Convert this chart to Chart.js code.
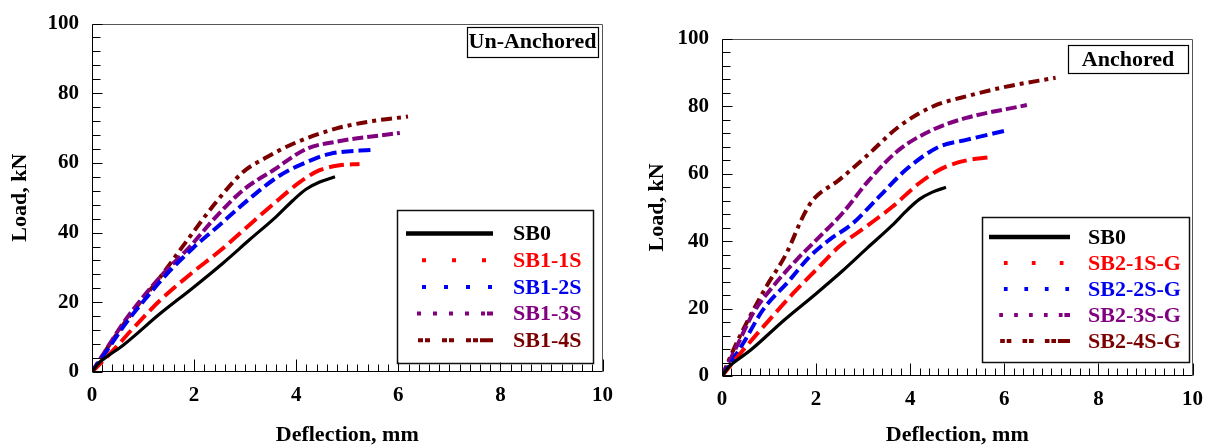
<!DOCTYPE html>
<html>
<head>
<meta charset="utf-8">
<script src="https://cdn.jsdelivr.net/npm/chart.js@4.4.0/dist/chart.umd.min.js"></script>
<style>
  html, body { margin: 0; padding: 0; background: #fff; }
  body { width: 1216px; height: 446px; position: relative; overflow: hidden; }
  canvas { position: absolute; top: 0; }
  #unanchored { left: 0; }
  #anchored { left: 630px; }
</style>
</head>
<body>
<canvas id="unanchored" width="626" height="446"></canvas>
<canvas id="anchored" width="586" height="446"></canvas>
<script>
// axis ticks (deflection mm / load kN)
const xTicks = [0, 2, 4, 6, 8, 10];
const yTicks = [0, 20, 40, 60, 80, 100];

// control beam, same curve in both plots
const sb0Defl = [0, 0.15, 0.3, 0.61, 1.33, 1.98, 2.57, 3.09, 3.61, 3.94, 4.2, 4.46, 4.76];
const sb0Load = [0, 2.8, 4.5, 7.7, 16.7, 24.2, 31.3, 38.0, 44.6, 49.3, 52.5, 54.5, 56.0];

// un-anchored
const sb11sDefl = [0, 0.4, 0.81, 1.33, 1.92, 2.5, 3.16, 3.68, 4.07, 4.46, 4.85, 5.24];
const sb11sLoad = [0, 6.0, 12.6, 20.5, 28.0, 34.7, 43.2, 49.8, 54.5, 57.9, 59.3, 59.7];
const sb12sDefl = [0, 0.3, 0.68, 1.07, 1.46, 1.98, 2.5, 3.09, 3.68, 4.2, 4.66, 5.54];
const sb12sLoad = [0, 6.3, 14.3, 21.4, 28.0, 35.6, 42.2, 49.8, 56.4, 60.2, 62.6, 63.8];
const sb13sDefl = [0, 0.3, 0.61, 1.0, 1.4, 1.92, 2.37, 2.96, 3.55, 4.2, 4.79, 6.03];
const sb13sLoad = [0, 7.0, 14.0, 21.5, 28.3, 36.0, 43.6, 52.2, 57.9, 64.0, 66.1, 68.6];
const sb14sDefl = [0, 0.42, 0.81, 1.33, 1.85, 2.44, 2.96, 3.42, 3.94, 4.79, 5.5, 6.19];
const sb14sLoad = [0, 9.5, 17.5, 27.1, 37.5, 48.9, 57.4, 61.6, 65.5, 69.9, 72.0, 73.3];

// anchored
const sb21sDefl = [0, 0.45, 0.94, 1.51, 2.0, 2.49, 3.06, 3.62, 4.19, 4.68, 5.17, 5.67];
const sb21sLoad = [0, 7.7, 15.6, 24.5, 31.5, 38.4, 44.3, 50.2, 57.2, 61.6, 63.9, 64.9];
const sb22sDefl = [0, 0.45, 0.87, 1.44, 1.86, 2.28, 2.78, 3.34, 3.9, 4.61, 5.17, 6.09];
const sb22sLoad = [0, 9.7, 19.6, 28.5, 35.4, 40.4, 45.3, 53.2, 61.1, 68.0, 70.0, 73.0];
const sb23sDefl = [0, 0.31, 0.66, 1.08, 1.58, 2.07, 2.56, 3.13, 3.76, 4.47, 5.17, 6.48];
const sb23sLoad = [0, 8.7, 18.6, 26.5, 34.4, 41.3, 48.3, 58.2, 67.1, 73.0, 76.5, 80.4];
const sb24sDefl = [0, 0.24, 0.59, 0.94, 1.37, 1.72, 1.93, 2.49, 3.06, 3.76, 4.47, 5.31, 6.02, 7.09];
const sb24sLoad = [0, 7.7, 17.6, 26.5, 36.4, 47.3, 52.2, 58.2, 65.1, 74.0, 79.9, 83.4, 85.8, 88.5];

const FONT = 'Liberation Serif, Times New Roman, serif';
const BLACK = '#000000';
const RED = '#ff0000';
const BLUE = '#0000f0';
const PURPLE = '#800080';
const MAROON = '#7a0000';

const toPoints = (xs, ys) => xs.map((x, i) => ({ x, y: ys[i] }));

function series(label, xs, ys, color, dash, legendDash, legendStart) {
  return {
    label,
    data: toPoints(xs, ys),
    borderColor: color,
    backgroundColor: color,
    borderWidth: dash.length ? 4 : 3.2,
    borderDash: dash,
    borderCapStyle: 'butt',
    pointRadius: 0,
    showLine: true,
    cubicInterpolationMode: 'monotone',
    legendDash,
    legendStart,
  };
}

// inward ticks, plot frame, title box and framed legend
const decorations = {
  id: 'decorations',
  afterDraw(chart, args, opts) {
    const { ctx, chartArea: a, scales: { x, y } } = chart;
    const left = Math.round(a.left) + 0.5;
    const right = Math.round(a.right) - 0.5;
    const top = Math.round(a.top) + 0.5;
    const bottom = Math.round(a.bottom) - 0.5;
    ctx.save();

    ctx.lineWidth = 1;
    ctx.strokeStyle = '#555';
    ctx.beginPath();
    ctx.moveTo(left, top);
    ctx.lineTo(right, top);
    ctx.lineTo(right, bottom);
    ctx.stroke();
    ctx.strokeStyle = '#000';
    ctx.beginPath();
    ctx.moveTo(left, top);
    ctx.lineTo(left, bottom);
    ctx.lineTo(right, bottom);
    for (let i = 0; i <= 50; i++) {
      const px = Math.round(x.getPixelForValue(i * 0.2)) + 0.5;
      const len = i % 10 === 0 ? 12 : 7;
      ctx.moveTo(px, bottom);
      ctx.lineTo(px, bottom - len);
    }
    for (let i = 0; i <= 25; i++) {
      const py = Math.round(y.getPixelForValue(i * 4)) + 0.5;
      const len = i % 5 === 0 ? 10 : 8;
      ctx.moveTo(left, py);
      ctx.lineTo(left + len, py);
    }
    ctx.stroke();

    // title box
    const t = opts.title;
    ctx.fillStyle = '#fff';
    ctx.fillRect(a.left + t.x, a.top + t.y, t.w, t.h);
    ctx.strokeStyle = '#000';
    ctx.lineWidth = 1.2;
    ctx.strokeRect(Math.round(a.left + t.x) + 0.5, Math.round(a.top + t.y) + 0.5, t.w, t.h);
    ctx.fillStyle = '#000';
    ctx.font = 'bold 22px ' + FONT;
    ctx.textAlign = 'center';
    ctx.textBaseline = 'middle';
    ctx.fillText(t.text, a.left + t.x + t.w / 2, a.top + t.y + t.h / 2 + 1);

    // legend box
    const l = opts.legend;
    const bx = a.left + l.x;
    const by = a.top + l.y;
    ctx.fillStyle = '#fff';
    ctx.fillRect(bx, by, l.w, l.h);
    ctx.strokeStyle = '#111';
    ctx.lineWidth = 1.5;
    ctx.strokeRect(Math.round(bx) + 0.5, Math.round(by) + 0.5, l.w, l.h);
    const len = l.x1 - l.x0;
    const k = len / 87;
    chart.data.datasets.forEach((ds, i) => {
      const ry = a.top + l.row0 + i * l.gap;
      ctx.save();
      ctx.beginPath();
      ctx.rect(a.left + l.x0, ry - 5, len, 10);
      ctx.clip();
      ctx.strokeStyle = ds.borderColor;
      ctx.lineWidth = ds.legendDash.length ? 4 : 4.5;
      ctx.lineCap = 'butt';
      ctx.setLineDash(ds.legendDash.map(d => d * k));
      ctx.beginPath();
      ctx.moveTo(a.left + l.x0 + ds.legendStart * k, ry);
      ctx.lineTo(a.left + l.x1 + 20, ry);
      ctx.stroke();
      ctx.restore();
      ctx.fillStyle = ds.borderColor;
      ctx.font = 'bold 22px ' + FONT;
      ctx.textAlign = 'left';
      ctx.textBaseline = 'middle';
      ctx.fillText(ds.label, a.left + l.tx, ry + 1);
    });
    ctx.restore();
  },
};

function makeChart(id, datasets, layout, title, legend) {
  const tickFont = { family: FONT, size: 21, weight: 'bold', lineHeight: 1 };
  const titleFont = { family: FONT, size: 22, weight: 'bold', lineHeight: 1 };
  return new Chart(document.getElementById(id), {
    type: 'scatter',
    data: { datasets },
    plugins: [decorations],
    options: {
      responsive: false,
      animation: false,
      devicePixelRatio: 1,
      layout: { padding: { top: layout.top, right: layout.right, left: 0, bottom: 0 } },
      plugins: {
        legend: { display: false },
        tooltip: { enabled: false },
        decorations: { title, legend },
      },
      scales: {
        x: {
          type: 'linear',
          min: 0,
          max: 10,
          afterBuildTicks: (s) => { s.ticks = xTicks.map((value) => ({ value })); },
          afterFit: (s) => { s.height = layout.xHeight; },
          grid: { display: false, drawTicks: false },
          border: { display: false },
          ticks: { padding: 13, color: '#000', font: tickFont, maxRotation: 0 },
          title: { display: true, text: 'Deflection, mm', color: '#000', font: titleFont, padding: 0 },
        },
        y: {
          type: 'linear',
          min: 0,
          max: 100,
          afterBuildTicks: (s) => { s.ticks = yTicks.map((value) => ({ value })); },
          afterFit: (s) => { s.width = 92; },
          grid: { display: false, drawTicks: false },
          border: { display: false },
          ticks: { padding: 13, color: '#000', font: tickFont },
          title: {
            display: true,
            text: 'Load, kN',
            color: '#000',
            font: titleFont,
            padding: { top: layout.yTitle, bottom: 0 },
          },
        },
      },
    },
  });
}

// legend sample dashes (in px over an 87px sample)
const dotsRed = [4, 26];
const dotsBlue = [4, 18];
const dotsPurple = [4, 12, 4, 12, 4, 12, 4, 12, 4, 2, 12, 2];
const dotsMaroon = [5, 2, 5, 12, 5, 2, 5, 12, 5, 2, 5, 2, 20, 2];

makeChart('unanchored', [
  series('SB0', sb0Defl, sb0Load, BLACK, [], [], 0),
  series('SB1-1S', sb11sDefl, sb11sLoad, RED, [15, 6], dotsRed, 16),
  series('SB1-2S', sb12sDefl, sb12sLoad, BLUE, [12, 5], dotsBlue, 16),
  series('SB1-3S', sb13sDefl, sb13sLoad, PURPLE, [11, 4], dotsPurple, 11),
  series('SB1-4S', sb14sDefl, sb14sLoad, MAROON, [11, 5, 4, 5], dotsMaroon, 12),
], { top: 20, right: 23, xHeight: 74, yTitle: 9 },
  { text: 'Un-Anchored', x: 375, y: 3, w: 131, h: 30 },
  { x: 305, y: 186, w: 196, h: 153, x0: 314, x1: 401, tx: 421, row0: 210, gap: 26.7 });

makeChart('anchored', [
  series('SB0', sb0Defl, sb0Load, BLACK, [], [], 0),
  series('SB2-1S-G', sb21sDefl, sb21sLoad, RED, [15, 6], dotsRed, 16),
  series('SB2-2S-G', sb22sDefl, sb22sLoad, BLUE, [12, 5], dotsBlue, 16),
  series('SB2-3S-G', sb23sDefl, sb23sLoad, PURPLE, [11, 4], dotsPurple, 11),
  series('SB2-4S-G', sb24sDefl, sb24sLoad, MAROON, [11, 5, 4, 5], dotsMaroon, 12),
], { top: 39, right: 21, xHeight: 70, yTitle: 16 },
  { text: 'Anchored', x: 346, y: 6, w: 120, h: 28 },
  { x: 260, y: 178, w: 207, h: 145, x0: 267, x1: 348, tx: 366, row0: 198, gap: 26 });
</script>
</body>
</html>
